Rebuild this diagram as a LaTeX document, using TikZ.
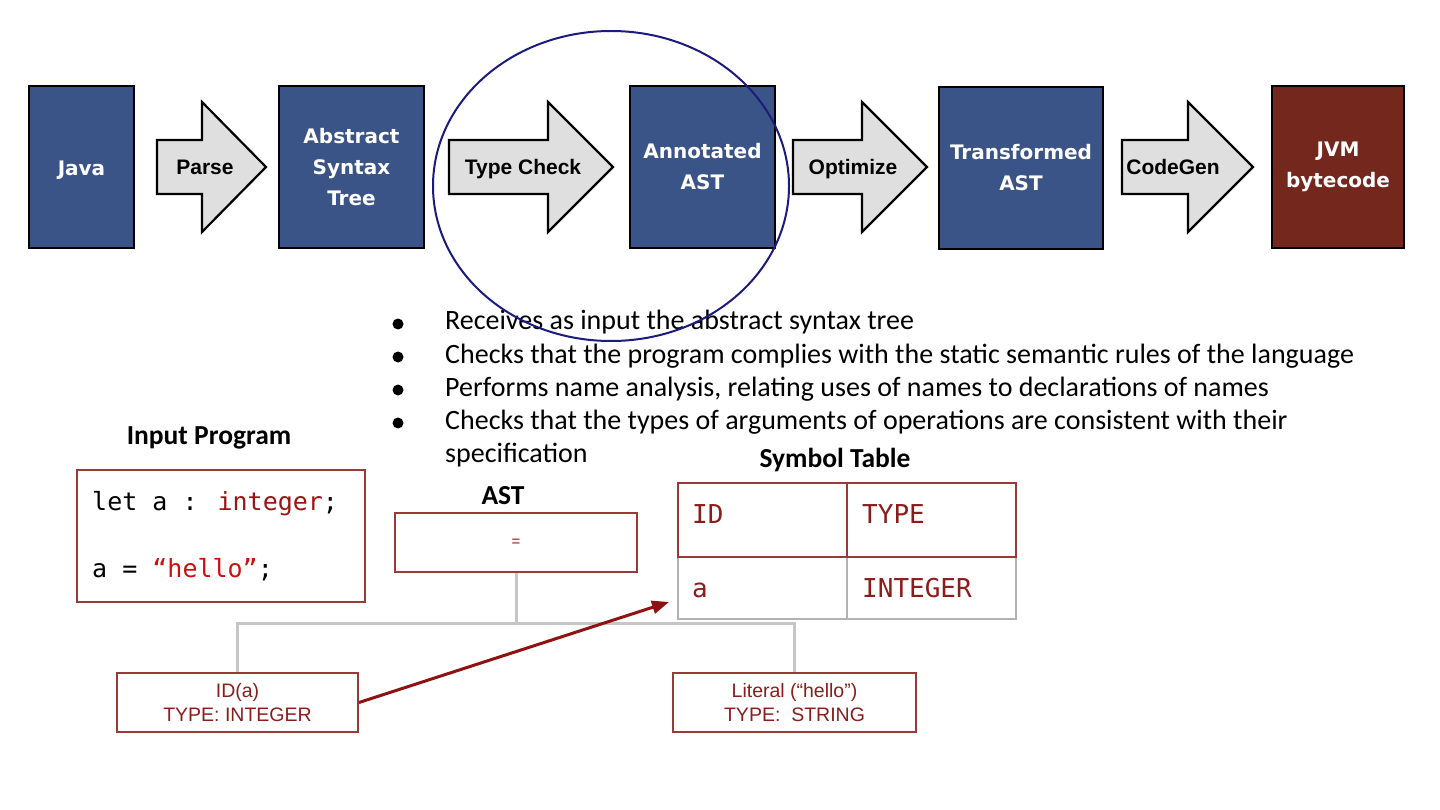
\documentclass[tikz,border=0pt]{standalone}
\usepackage{fontspec}
\setmainfont{Carlito}
\newfontfamily\stagefont{DejaVu Sans}
\newfontfamily\arrowfont{Liberation Sans}
\newfontfamily\codefont{DejaVu Sans Mono}
\newfontfamily\nodefont{Liberation Sans}
\usepackage{tikz}
\usetikzlibrary{arrows.meta}

\definecolor{stageblue}{HTML}{3B5488}
\definecolor{jvmred}{HTML}{74271D}
\definecolor{arrowgray}{HTML}{DFDFDF}
\definecolor{boxred}{HTML}{983B36}
\definecolor{labelred}{HTML}{8B1C1C}
\definecolor{kwred}{HTML}{9C1515}
\definecolor{strred}{HTML}{CC1010}
\definecolor{treegray}{HTML}{C6C6C6}
\definecolor{ringblue}{HTML}{1B1B7E}
\definecolor{ptrred}{HTML}{8E1212}

\tikzset{
  stage/.style={draw=black, line width=1.5pt, fill=stageblue, text=white, minimum height=162pt, inner sep=0pt, align=center, font=\stagefont\bfseries\fontsize{20}{31}\selectfont, execute at begin node={\rule{0pt}{21pt}}},
  blockarrow/.style={draw=black, line width=2.2pt, fill=arrowgray, line join=miter},
  arrowtext/.style={anchor=base, inner sep=0pt, font=\arrowfont\bfseries\fontsize{21}{25}\selectfont},
  bulletdot/.style={circle, fill=black, minimum size=11pt, inner sep=0pt},
  itemtext/.style={anchor=base west, inner sep=0pt, font=\fontsize{28}{33}\selectfont},
  headtext/.style={anchor=base, inner sep=0pt, font=\bfseries\fontsize{27.5}{30}\selectfont},
  codebox/.style={draw=boxred, line width=2pt, minimum width=288pt, minimum height=132pt},
  codeline/.style={anchor=base west, inner sep=0pt, font=\codefont\fontsize{25}{30}\selectfont},
  astnode/.style={draw=boxred, line width=2pt, minimum width=242pt, minimum height=59pt, align=center, text=labelred, font=\nodefont\fontsize{19.5}{24}\selectfont},
  treeline/.style={draw=treegray, line width=3pt},
  symcell/.style={minimum width=169pt, inner sep=0pt},
  celltext/.style={anchor=base west, inner sep=0pt, text=labelred, font=\codefont\fontsize{26}{30}\selectfont},
}

\begin{document}
\begin{tikzpicture}[x=1pt,y=1pt]
\fill [white] (0,0) rectangle (1440,-810);
\useasboundingbox (0,0) rectangle (1440,-810);
% pipeline
\node [stage, minimum width=105pt] (java) at (81.5,-167) {Java};
\node [stage, minimum width=145pt] (ast) at (351.5,-167) {Abstract\\Syntax\\Tree};
\node [stage, minimum width=145pt] (annot) at (702.5,-167) {Annotated\\AST};
\node [stage, minimum width=164pt] (trans) at (1021,-168) {Transformed\\AST};
\node [stage, minimum width=132pt, fill=jvmred] (jvm) at (1338,-167) {JVM\\bytecode};
\draw [blockarrow] (157,-140) -- (202,-140) -- (202,-102) -- (266,-167) -- (202,-232) -- (202,-194) -- (157,-194) -- cycle;
\node [arrowtext] (parse) at (205,-175) {Parse};
\draw [blockarrow] (449,-140) -- (548,-140) -- (548,-102) -- (613,-167) -- (548,-232) -- (548,-194) -- (449,-194) -- cycle;
\node [arrowtext] (typecheck) at (523,-175) {Type Check};
\draw [blockarrow] (793,-140) -- (862,-140) -- (862,-102) -- (927,-167) -- (862,-232) -- (862,-194) -- (793,-194) -- cycle;
\node [arrowtext] (optimize) at (853,-175) {Optimize};
\draw [blockarrow] (1122,-140) -- (1188,-140) -- (1188,-102) -- (1253,-167) -- (1188,-232) -- (1188,-194) -- (1122,-194) -- cycle;
\node [arrowtext] (codegen) at (1173,-175) {CodeGen};
% bullets
\node [bulletdot] (d1) at (398,-324) {};
\node [itemtext] (i1) at (445,-330) {Receives as input the abstract syntax tree};
\node [bulletdot] (d2) at (398,-357) {};
\node [itemtext] (i2) at (445,-363) {Checks that the program complies with the static semantic rules of the language};
\node [bulletdot] (d3) at (398,-390) {};
\node [itemtext] (i3) at (445,-396) {Performs name analysis, relating uses of names to declarations of names};
\node [bulletdot] (d4) at (398,-423) {};
\node [itemtext] (i4) at (445,-429) {Checks that the types of arguments of operations are consistent with their};
\node [itemtext] (i4b) at (445,-462) {specification};
% input program
\node [headtext] (inputtitle) at (209,-444) {Input Program};
\node [codebox] (code) at (221,-536) {};
\node [codeline] (line1) at (92,-510) {let a : \textcolor{kwred}{integer};};
\node [codeline] (line2) at (92,-577) {a = \textcolor{strred}{“hello”};};
% ast
\node [headtext] (asttitle) at (503,-504) {AST};
\node [astnode, font=\nodefont\fontsize{15}{18}\selectfont] (root) at (516,-542.5) {=};
\node [astnode, minimum width=241pt] (idnode) at (237.5,-702.5) {ID(a)\\TYPE: INTEGER};
\node [astnode, minimum width=243pt] (litnode) at (794.5,-702.5) {Literal (“hello”)\\TYPE: ~STRING};
\draw [treeline] (root.south) -- ++(0,-50) -| (idnode.north);
\draw [treeline] (root.south) -- ++(0,-50) -| (litnode.north);
% symbol table
\node [headtext] (symtitle) at (835,-467) {Symbol Table};
\node [symcell, minimum height=62pt, draw=gray!60, line width=1.5pt] (acell) at (762.5,-588) {};
\node [symcell, minimum height=62pt, draw=gray!60, line width=1.5pt] (intcell) at (931.5,-588) {};
\node [symcell, minimum height=74pt, draw=boxred, line width=1.5pt] (idhead) at (762.5,-520) {};
\node [symcell, minimum height=74pt, draw=boxred, line width=1.5pt] (typehead) at (931.5,-520) {};
\node [celltext] (idtext) at (692,-523) {ID};
\node [celltext] (typetext) at (862,-523) {TYPE};
\node [celltext] (atext) at (692,-597) {a};
\node [celltext] (inttext) at (862,-597) {INTEGER};
% link from id to table
\coordinate (symtip) at (669,-602);
\draw [ptrred, line width=3pt, -{Triangle[length=17pt,width=13pt]}] (idnode.east) -- (symtip);
% highlight
\draw [ringblue, line width=2pt] (611,-186) ellipse [x radius=178pt, y radius=155pt];
\end{tikzpicture}
\end{document}
